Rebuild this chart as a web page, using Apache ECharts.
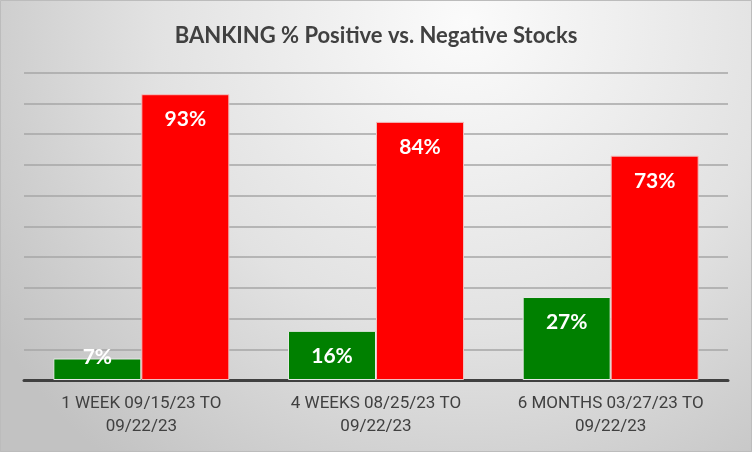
<!DOCTYPE html>
<html><head><meta charset="utf-8">
<script src="https://cdn.jsdelivr.net/npm/echarts@6/dist/echarts.min.js"></script>
<style>html,body{margin:0;padding:0;}#c{width:752px;height:452px;}</style>
</head><body><div id="c"></div>
<script>
const categories = ['1 WEEK 09/15/23 TO\n09/22/23', '4 WEEKS 08/25/23 TO\n09/22/23', '6 MONTHS 03/27/23 TO\n09/22/23'];
const positive = [7, 16, 27];
const negative = [93, 84, 73];
const yMax = 100;
const yInterval = 10;

const chart = echarts.init(document.getElementById('c'));
const labelStyle = {
  show: true, position: 'insideTop', distance: 15,
  color: '#fff', fontWeight: 'bold', fontSize: 21, fontFamily: 'Lato',
  formatter: p => p.value + '%'
};
chart.setOption({
  backgroundColor: {
    type: 'radial', x: 0.62, y: 0.05, r: 1.25,
    colorStops: [{offset: 0, color: '#fbfbfb'}, {offset: 0.55, color: '#e2e2e2'}, {offset: 1, color: '#c2c2c2'}]
  },
  title: {
    text: 'BANKING % Positive vs. Negative Stocks', left: 'center', top: 20,
    textStyle: {fontFamily: 'Lato', fontWeight: 'bold', fontSize: 22, color: '#404040'}
  },
  graphic: [{type: 'rect', shape: {x: 0.5, y: 0.5, width: 751, height: 451}, style: {fill: 'none', stroke: '#bcbcbc', lineWidth: 1}}],
  grid: {left: 24, right: 24, top: 72.7, bottom: 72, containLabel: false},
  xAxis: {
    type: 'category', data: categories,
    axisLine: {lineStyle: {color: '#404040', width: 3}},
    axisTick: {show: false},
    axisLabel: {interval: 0, hideOverlap: false, color: '#404040', fontSize: 17, fontFamily: 'Roboto', lineHeight: 23, margin: 12}
  },
  yAxis: {
    type: 'value', min: 0, max: yMax, interval: yInterval,
    axisLabel: {show: false}, axisLine: {show: false}, axisTick: {show: false},
    splitLine: {lineStyle: {color: '#a6a6a6', width: 1.5}}
  },
  series: [
    {type: 'bar', name: 'Positive', data: positive.map((v, i) => i === 0 ? {value: v, label: {distance: -12}} : v),
     itemStyle: {color: '#008000', borderColor: '#e8e8e8', borderWidth: 1}, barWidth: 88, barGap: '0%', label: labelStyle},
    {type: 'bar', name: 'Negative', data: negative,
     itemStyle: {color: '#ff0000', borderColor: '#f0c0c0', borderWidth: 1}, barWidth: 88, label: labelStyle}
  ]
});
</script></body></html>
